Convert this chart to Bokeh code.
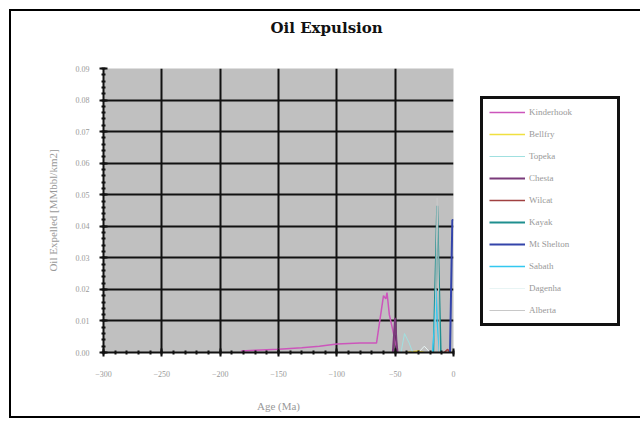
from bokeh.plotting import figure
from bokeh.models import Legend, LegendItem, SingleIntervalTicker, FixedTicker, NumeralTickFormatter, Title
from bokeh.embed import file_html
from bokeh.resources import INLINE

# ---- data ----
series_names = ["Kinderhook", "Bellfry", "Topeka", "Chesta", "Wilcat",
                "Kayak", "Mt Shelton", "Sabath", "Dagenha", "Alberta"]
series_colors = ["#cc55bb", "#f0e040", "#a0e0e0", "#7a3a7a", "#a04040",
                 "#1f8f8f", "#3344aa", "#33c8f0", "#e8f4f4", "#c8c8c8"]

kinderhook_age = [-182, -170, -150, -130, -115, -100, -80, -66, -60, -58, -57, -55, -52, -48]
kinderhook_val = [0.0005, 0.0007, 0.001, 0.0015, 0.002, 0.0027, 0.003, 0.003, 0.018, 0.017, 0.019, 0.012, 0.007, 0.0]
bellfry_age = [-40, -30, -25]
bellfry_val = [0.0, 0.0005, 0.0]
topeka_age = [-45, -42, -38, -35]
topeka_val = [0.0, 0.006, 0.003, 0.0]
chesta_age = [-52, -50, -49, -48]
chesta_val = [0.0, 0.011, 0.004, 0.0]
wilcat_age = [-8, -5, -3]
wilcat_val = [0.0, 0.001, 0.0]
kayak_age = [-17, -15, -14, -13, -11]
kayak_val = [0.0, 0.03, 0.0465, 0.03, 0.0]
mtshelton_age = [-3, -1, 0]
mtshelton_val = [0.0, 0.042, 0.042]
sabath_age = [-18, -16, -15, -14, -12]
sabath_val = [0.0, 0.01, 0.02, 0.01, 0.0]
dagenha_age = [-30, -25, -20]
dagenha_val = [0.0, 0.002, 0.0]
alberta_age = [-16, -14, -12]
alberta_val = [0.0, 0.049, 0.0]

series_ages = [kinderhook_age, bellfry_age, topeka_age, chesta_age, wilcat_age,
               kayak_age, mtshelton_age, sabath_age, dagenha_age, alberta_age]
series_vals = [kinderhook_val, bellfry_val, topeka_val, chesta_val, wilcat_val,
               kayak_val, mtshelton_val, sabath_val, dagenha_val, alberta_val]
series_widths = [1.5, 1.5, 1, 2, 1.5, 2, 2, 1.5, 1, 1]

x_ticks = [-300, -250, -200, -150, -100, -50, 0]
y_ticks = [0.00, 0.01, 0.02, 0.03, 0.04, 0.05, 0.06, 0.07, 0.08, 0.09]

p = figure(frame_width=350, frame_height=284, output_backend="svg", toolbar_location=None,
           title=None, x_range=(-300, 0), y_range=(0, 0.09),
           min_border_left=92, min_border_right=176, min_border_top=57, min_border_bottom=64)
p.styles = {"border": "2px solid black", "margin-left": "9px", "margin-top": "9px"}

# spacer between the plot area and the title (closest to the frame)
p.add_layout(Title(text=" ", text_font_size="10px", standoff=19), "above")
p.add_layout(Title(text="Oil Expulsion", align="left", offset=167, standoff=0,
                   text_font="DejaVu Serif", text_font_size="15px",
                   text_font_style="bold", text_color="#111111"), "above")

p.background_fill_color = "#c0c0c0"
p.border_fill_color = "white"
p.outline_line_color = None

p.xgrid.ticker = FixedTicker(ticks=x_ticks)
p.ygrid.ticker = FixedTicker(ticks=y_ticks)
p.grid.grid_line_color = "#111111"
p.grid.grid_line_width = 2

p.xaxis.ticker = SingleIntervalTicker(interval=50, num_minor_ticks=5)
p.yaxis.ticker = SingleIntervalTicker(interval=0.01, num_minor_ticks=5)
p.yaxis.formatter = NumeralTickFormatter(format="0.00")

for ax in (p.xaxis, p.yaxis):
    ax.axis_line_color = "#111111"
    ax.axis_line_width = 2
    ax.major_tick_line_color = "#111111"
    ax.major_tick_line_width = 2
    ax.major_tick_in = 4
    ax.major_tick_out = 4
    ax.minor_tick_line_color = "#111111"
    ax.minor_tick_line_width = 2
    ax.minor_tick_in = 2
    ax.minor_tick_out = 2
    ax.major_label_text_font = "Liberation Serif"
    ax.major_label_text_font_size = "8px"
    ax.major_label_text_color = "#999999"
    ax.axis_label_text_font = "Liberation Serif"
    ax.axis_label_text_font_size = "11px"
    ax.axis_label_text_font_style = "normal"
    ax.axis_label_text_color = "#999999"

p.xaxis.axis_label = "Age (Ma)"
p.yaxis.axis_label = "Oil Expelled [MMbbl/km2]"
p.xaxis.major_label_standoff = 14
p.yaxis.major_label_standoff = 10
p.xaxis.axis_label_standoff = 20
p.yaxis.axis_label_standoff = 14

items = []
for name, col, ages, vals, w in zip(series_names, series_colors, series_ages, series_vals, series_widths):
    r = p.line(ages, vals, line_color=col, line_width=w)
    items.append(LegendItem(label=name, renderers=[r]))

legend = Legend(items=items, location=(27, 26))
legend.border_line_color = "#111111"
legend.border_line_alpha = 1
legend.border_line_width = 3
legend.background_fill_color = "white"
legend.background_fill_alpha = 1
legend.label_text_font = "Liberation Serif"
legend.label_text_font_size = "9px"
legend.label_text_color = "#999999"
legend.glyph_width = 36
legend.glyph_height = 14
legend.label_height = 14
legend.spacing = 8
legend.padding = 6
legend.margin = 0
legend.label_standoff = 4
legend.label_width = 82
p.add_layout(legend, "right")

open("out.html", "w").write(file_html(p, INLINE))
